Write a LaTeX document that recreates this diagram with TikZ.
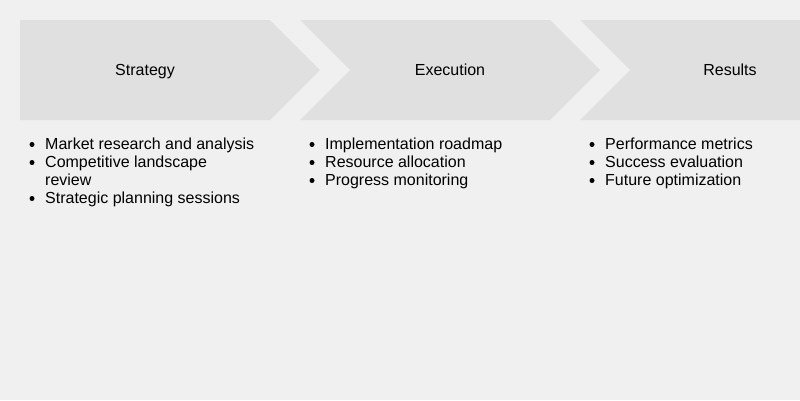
\documentclass[tikz,border=0pt]{standalone}
\usepackage{fontspec}
\setmainfont{Liberation Sans}
\definecolor{bgc}{HTML}{F0F0F0}
\definecolor{chev}{HTML}{E0E0E0}
\tikzset{
  chevfill/.style={fill=chev, draw=none},
  title/.style={anchor=base, inner sep=0pt, font=\fontsize{16}{18}\selectfont, text=black},
  item/.style={anchor=base west, inner sep=0pt, font=\fontsize{16}{18}\selectfont, text=black},
  dot/.style={fill=black, draw=none}
}
\begin{document}
\begin{tikzpicture}[x=1pt,y=-1pt]
\path[use as bounding box, fill=bgc] (0,0) rectangle (800,400);
\begin{scope}
\clip (0,0) rectangle (800,400);
\fill[chevfill] (20,20) -- (270,20) -- (320,70) -- (270,120) -- (20,120) -- cycle;
\fill[chevfill] (300,20) -- (550,20) -- (600,70) -- (550,120) -- (300,120) -- (350,70) -- cycle;
\fill[chevfill] (580,20) -- (830,20) -- (880,70) -- (830,120) -- (580,120) -- (630,70) -- cycle;
\end{scope}
\node[title] (t1) at (145,75.5) {Strategy};
\node[title] (t2) at (450,75.5) {Execution};
\node[title] (t3) at (730,75.5) {Results};
% column 1
\node[item] (a1) at (45,149.5) {Market research and analysis};
\node[item] (a2) at (45,167.5) {Competitive landscape};
\node[item] (a2b) at (45,185.5) {review};
\node[item] (a3) at (45,203.5) {Strategic planning sessions};
\fill[dot] (32,144.5) circle (2.5);
\fill[dot] (32,162.5) circle (2.5);
\fill[dot] (32,198.5) circle (2.5);
% column 2
\node[item] (b1) at (325,149.5) {Implementation roadmap};
\node[item] (b2) at (325,167.5) {Resource allocation};
\node[item] (b3) at (325,185.5) {Progress monitoring};
\fill[dot] (312,144.5) circle (2.5);
\fill[dot] (312,162.5) circle (2.5);
\fill[dot] (312,180.5) circle (2.5);
% column 3
\node[item] (c1) at (605,149.5) {Performance metrics};
\node[item] (c2) at (605,167.5) {Success evaluation};
\node[item] (c3) at (605,185.5) {Future optimization};
\fill[dot] (592,144.5) circle (2.5);
\fill[dot] (592,162.5) circle (2.5);
\fill[dot] (592,180.5) circle (2.5);
\end{tikzpicture}
\end{document}
